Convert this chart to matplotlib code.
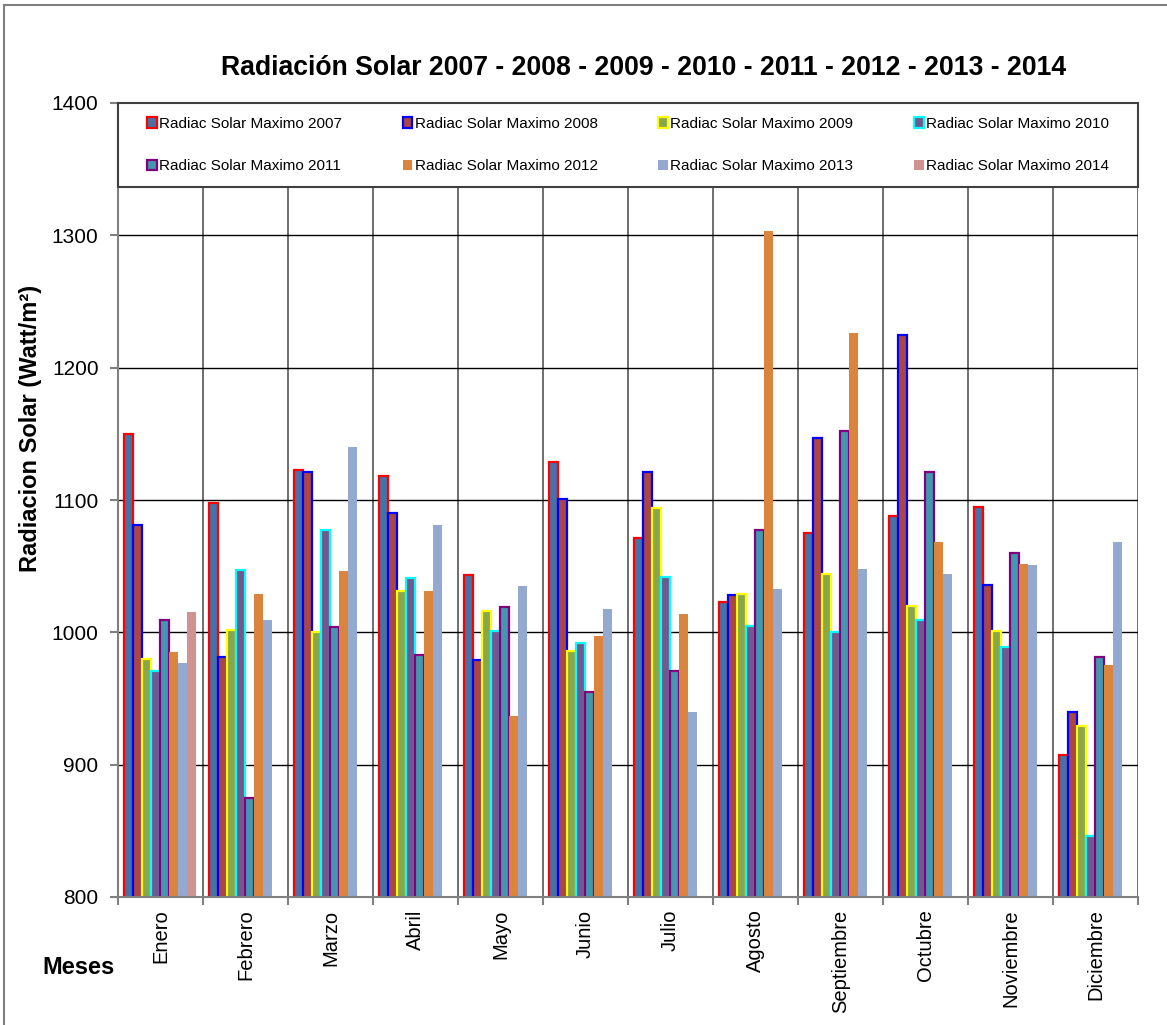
import numpy as np
import matplotlib
matplotlib.use('Agg')
import matplotlib.pyplot as plt
from matplotlib.patches import Rectangle
from matplotlib.lines import Line2D

plt.rcParams['font.family'] = ['Liberation Sans', 'DejaVu Sans']

meses = ['Enero', 'Febrero', 'Marzo', 'Abril', 'Mayo', 'Junio', 'Julio',
         'Agosto', 'Septiembre', 'Octubre', 'Noviembre', 'Diciembre']
anios = ['2007', '2008', '2009', '2010', '2011', '2012', '2013', '2014']

r2007 = [1150, 1098, 1123, 1118, 1043, 1129, 1071, 1023, 1075, 1088, 1095, 907]
r2008 = [1081, 981, 1121, 1090, 979, 1101, 1121, 1028, 1147, 1225, 1036, 940]
r2009 = [980, 1002, 1000, 1031, 1016, 986, 1094, 1029, 1044, 1020, 1001, 929]
r2010 = [971, 1047, 1077, 1041, 1001, 992, 1042, 1005, 1000, 1009, 989, 846]
r2011 = [1009, 875, 1004, 983, 1019, 955, 971, 1077, 1152, 1121, 1060, 981]
r2012 = [985, 1029, 1046, 1031, 937, 997, 1014, 1303, 1226, 1068, 1052, 975]
r2013 = [977, 1009, 1140, 1081, 1035, 1018, 940, 1033, 1048, 1044, 1051, 1068]
r2014 = [1015, 0, 0, 0, 0, 0, 0, 0, 0, 0, 0, 0]
series = [r2007, r2008, r2009, r2010, r2011, r2012, r2013, r2014]

relleno = ['#4572A7', '#AA4643', '#89A54E', '#71588F', '#4198AF', '#DB843D', '#93A9CF', '#D19392']
borde = ['#FF0000', '#0000FF', '#FFFF00', '#00FFFF', '#800080', None, None, None]

fig = plt.figure(figsize=(11.67, 10.25), dpi=100)
ax = fig.add_axes([118/1167, 1 - 897/1025, 1020/1167, 794/1025])

x = np.arange(len(meses))
w = 0.106
handles = []
for i, (vals, fc, ec) in enumerate(zip(series, relleno, borde)):
    pos = x - 0.5 + 0.07 + w * (i + 0.5)
    if ec is None:
        b = ax.bar(pos, vals, w, color=fc, zorder=3 + i)
    else:
        b = ax.bar(pos, vals, w, color=fc, edgecolor=ec, linewidth=1.6, zorder=3 + i)
    handles.append(b)

ax.set_ylim(800, 1400)
ax.set_xlim(-0.5, len(meses) - 0.5)
ax.set_yticks(np.arange(800, 1401, 100))
ax.tick_params(axis='y', labelsize=15, direction='out', length=6, color='#808080', width=1.5, pad=8)
ax.set_xticks(x)
ax.set_xticklabels(meses, rotation=90, fontsize=14.5)
ax.set_xticks(np.arange(-0.5, len(meses), 1), minor=True)
ax.tick_params(axis='x', which='major', length=0, pad=9)
ax.tick_params(axis='x', which='minor', length=6, color='#808080', width=1.5)
ax.grid(axis='y', color='black', linewidth=1.0, zorder=1)
ax.grid(axis='x', which='minor', color='#555555', linewidth=1.2, zorder=1)
ax.set_axisbelow(True)
for s in ['top', 'right']:
    ax.spines[s].set_visible(False)
for s in ['left', 'bottom']:
    ax.spines[s].set_color('#808080')
    ax.spines[s].set_linewidth(1.5)
    ax.spines[s].set_zorder(20)

ax.set_ylabel('Radiacion Solar (Watt/m²)', fontsize=17, fontweight='bold')
ax.yaxis.set_label_coords(-0.0745, 0.59)

# caja de la leyenda
y0 = (897 - 187) / 794
ax.add_patch(Rectangle((0, y0), 1, 1 - y0, transform=ax.transAxes, facecolor='white',
                       edgecolor='#404040', linewidth=1.5, zorder=30, clip_on=False))

orden = [0, 4, 1, 5, 2, 6, 3, 7]
leg = ax.legend([handles[k] for k in orden],
                ['Radiac Solar Maximo ' + anios[k] for k in orden],
                ncol=4, mode='expand', loc='center', frameon=False,
                bbox_to_anchor=(29/1020, y0, 1 - 58/1020, 1 - y0),
                fontsize=11, handlelength=0.65, handleheight=0.65,
                handletextpad=0.15, labelspacing=1.85, borderpad=0, borderaxespad=0)
leg.set_zorder(31)

fig.text(644/1167, 1 - 68/1025,
         'Radiación Solar 2007 - 2008 - 2009 - 2010 - 2011 - 2012 - 2013 - 2014',
         fontsize=19.2, fontweight='bold', ha='center', va='center')
fig.text(78/1167, 1 - 967/1025, 'Meses', fontsize=17, fontweight='bold', ha='center', va='center')

# marco de la figura
fig.add_artist(Line2D([4/1167, 4/1167], [0, 1 - 5/1025], transform=fig.transFigure, color='#808080', linewidth=1.5))
fig.add_artist(Line2D([4/1167, 1], [1 - 5/1025, 1 - 5/1025], transform=fig.transFigure, color='#808080', linewidth=1.5))

fig.savefig('out.png', dpi=100)
